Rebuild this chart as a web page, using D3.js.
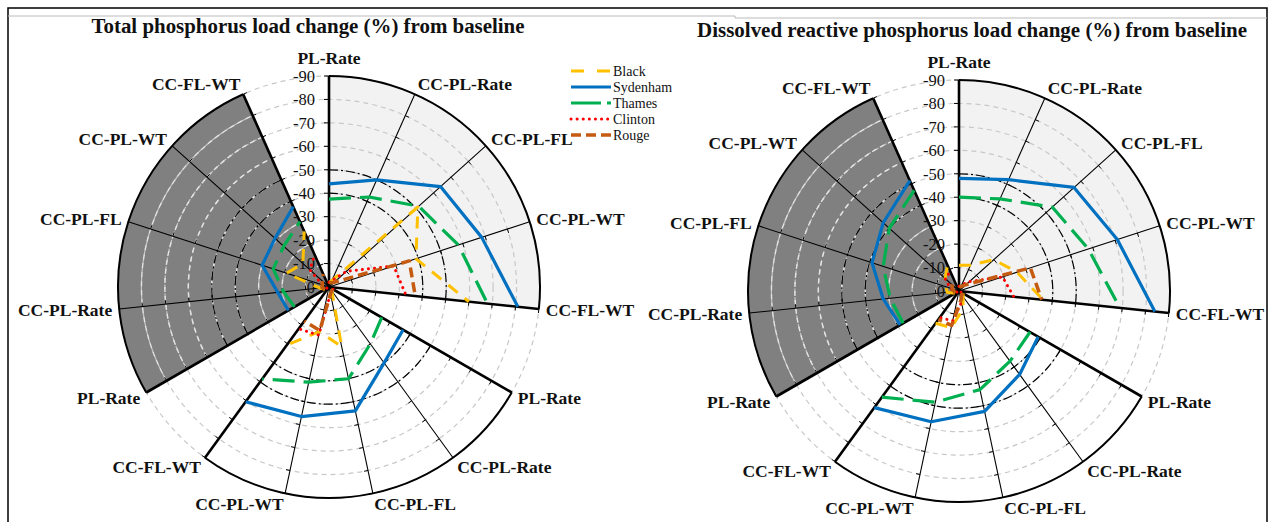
<!DOCTYPE html>
<html>
<head>
<meta charset="utf-8">
<script src="https://cdn.jsdelivr.net/npm/d3@7"></script>
<style>
  body { margin: 0; background: #fff; }
  svg { display: block; font-family: "Liberation Serif", "Times New Roman", serif; }
</style>
</head>
<body>
<div id="chart"></div>
<script>
// Spoke names, repeated in each of the three sectors
const spokeNames = ["PL-Rate", "CC-PL-Rate", "CC-PL-FL", "CC-PL-WT", "CC-FL-WT"];
const sectorNames = ["light", "white", "dark"];
const seriesNames = ["Black", "Sydenham", "Thames", "Clinton", "Rouge"];
const radialTicks = [0, 10, 20, 30, 40, 50, 60, 70, 80, 90];
const tickLabels = ["0", "-10", "-20", "-30", "-40", "-50", "-60", "-70", "-80", "-90"];

// Total phosphorus: size of the load change, 3 sectors x 5 spokes each
const tpBlack    = [2, 3, 51, 39, 60,     2, 2, 26, 19.5, 30.5,   2, 4, 19, 15, 26];
const tpSydenham = [44, 50, 64, 68.5, 81, 36.5, 40, 54, 56.5, 60.5, 20, 22, 30, 31, 37.5];
const tpThames   = [37.5, 42, 51.5, 58, 68, 26, 30, 40, 41.5, 48.5, 17, 19.5, 25, 26, 30.5];
const tpClinton  = [2, 3, 10, 29, 33,     2, 2, 3, 21, 22,        1, 2, 3, 11, 15];
const tpRouge    = [2, 2, 3, 36, 37,      2, 2, 3, 19, 18,        2, 3, 3, 4, 6];

// Dissolved reactive phosphorus
const drpBlack    = [11, 12, 20, 26, 36,    2, 3, 8, 16, 17,        2, 5, 6, 8, 12];
const drpSydenham = [48, 52, 66, 71, 84,    39, 44, 52.5, 57, 61.5, 29, 32.5, 39, 43.5, 51.5];
const drpThames   = [40, 43, 53.5, 58, 69,  35, 37, 43, 48.5, 56,   27.5, 29.5, 34, 40, 47];
const drpClinton  = [2, 3, 6, 19.5, 23.5,   1, 2, 5, 13, 14,        1, 2, 4, 8, 9];
const drpRouge    = [2, 2, 4, 32, 35.5,     2, 2, 4, 15, 15,        2, 2, 3, 4, 5];

const width = 1270;
const height = 522;
const R = 211;

const svg = d3.select("#chart")
  .append("svg")
  .attr("width", width)
  .attr("height", height);

// frame
svg.append("path")
  .attr("d", "M8,522 V8 H1267 V522")
  .attr("fill", "none").attr("stroke", "#000").attr("stroke-width", 1.5);
svg.append("path")
  .attr("d", "M8,16 H735 V18 H1267")
  .attr("fill", "none").attr("stroke", "#bbb").attr("stroke-width", 1);

const seriesStyle = {
  Black:    {color: "#FFC000", width: 3,   dash: "12,9"},
  Sydenham: {color: "#0070C0", width: 3.2, dash: null},
  Thames:   {color: "#00B050", width: 3.2, dash: "22,9"},
  Clinton:  {color: "#FF0000", width: 3,   dash: "0.1,6"},
  Rouge:    {color: "#C55A11", width: 3.5, dash: "10,5"}
};
const sectorFill = {light: "#F2F2F2", white: "#FFFFFF", dark: "#808080"};

const charts = [
  {cx: 329, cy: 287, tx: 308, ty: 33, title: "Total phosphorus load change (%) from baseline", tlen: 433,
   values: [tpBlack, tpSydenham, tpThames, tpClinton, tpRouge]},
  {cx: 959, cy: 291, tx: 972, ty: 37, title: "Dissolved reactive phosphorus load change (%) from baseline", tlen: 550,
   values: [drpBlack, drpSydenham, drpThames, drpClinton, drpRouge]}
];

const nSpokes = spokeNames.length * sectorNames.length;
const rScale = d3.scaleLinear().domain([0, 90]).range([0, R]);
const aScale = d3.scaleLinear().domain([0, nSpokes]).range([0, 2 * Math.PI]);

// point on the chart for an angle (0 = up, clockwise) and a radius in px
const pt = (a, r) => [r * Math.sin(a), -r * Math.cos(a)];

function arcPath(r, a0, a1) {
  const p = d3.path();
  p.arc(0, 0, r, a0 - Math.PI / 2, a1 - Math.PI / 2);
  return p.toString();
}

charts.forEach(chart => {
  const g = svg.append("g").attr("transform", `translate(${chart.cx},${chart.cy})`);

  // sector backgrounds
  sectorNames.forEach((s, k) => {
    g.append("path")
      .attr("d", d3.arc().innerRadius(0).outerRadius(R)
        .startAngle(aScale(k * 5)).endAngle(aScale(k * 5 + 4))())
      .attr("fill", sectorFill[s]);
  });

  // dashed grid circles
  g.selectAll(".grid")
    .data(radialTicks.slice(1))
    .enter()
    .append("circle")
      .attr("r", d => rScale(d))
      .attr("fill", "none")
      .attr("stroke", "#c8c8c8")
      .attr("stroke-width", 1.2)
      .attr("stroke-dasharray", "5,4");

  // lighter grid over the dark sector
  radialTicks.slice(1, -1).forEach(t => {
    g.append("path")
      .attr("d", arcPath(rScale(t), aScale(10), aScale(14)))
      .attr("fill", "none")
      .attr("stroke", "#e4e4e4")
      .attr("stroke-width", 1.4)
      .attr("stroke-dasharray", "5,4");
  });

  // dash-dot rings at 40 and 50 inside each sector
  sectorNames.forEach((s, k) => {
    [40, 50].forEach(v => {
      g.append("path")
        .attr("d", arcPath(rScale(v), aScale(k * 5), aScale(k * 5 + 4)))
        .attr("fill", "none")
        .attr("stroke", "#000")
        .attr("stroke-width", 1.2)
        .attr("stroke-dasharray", "9,3,2,3");
    });
  });

  // spokes with small ticks
  d3.range(nSpokes).forEach(i => {
    const a = aScale(i);
    const edge = (i % 5 === 0 || i % 5 === 4);
    const end = pt(a, R);
    g.append("line")
      .attr("x1", 0).attr("y1", 0)
      .attr("x2", end[0]).attr("y2", end[1])
      .attr("stroke", "#000")
      .attr("stroke-width", edge ? 2.6 : 1.1);
    if (i === 0) return;
    radialTicks.slice(1).forEach(t => {
      const c = pt(a, rScale(t));
      const nx = Math.cos(a) * 4, ny = Math.sin(a) * 4;
      g.append("line")
        .attr("x1", c[0]).attr("y1", c[1])
        .attr("x2", c[0] + nx).attr("y2", c[1] + ny)
        .attr("stroke", "#000").attr("stroke-width", 1);
    });
  });

  // outer border of each sector
  sectorNames.forEach((s, k) => {
    g.append("path")
      .attr("d", arcPath(R, aScale(k * 5), aScale(k * 5 + 4)))
      .attr("fill", "none")
      .attr("stroke", "#000")
      .attr("stroke-width", 2);
  });

  // value axis ticks and labels on the top spoke
  radialTicks.forEach((t, j) => {
    g.append("line")
      .attr("x1", -5).attr("x2", 0)
      .attr("y1", -rScale(t)).attr("y2", -rScale(t))
      .attr("stroke", "#000").attr("stroke-width", 1);
    g.append("text")
      .attr("x", -14)
      .attr("y", -rScale(t))
      .attr("dy", "0.35em")
      .attr("text-anchor", "end")
      .attr("font-size", "16.5px")
      .attr("fill", "#111")
      .text(tickLabels[j]);
  });

  // series lines, one piece per sector
  const line = d3.lineRadial()
    .angle(d => aScale(d.i))
    .radius(d => rScale(d.v));

  seriesNames.forEach((name, n) => {
    const vals = chart.values[n];
    const st = seriesStyle[name];
    sectorNames.forEach((s, k) => {
      const pts = d3.range(5).map(j => ({i: k * 5 + j, v: vals[k * 5 + j]}));
      g.append("path")
        .datum(pts)
        .attr("d", line)
        .attr("fill", "none")
        .attr("stroke", st.color)
        .attr("stroke-width", st.width)
        .attr("stroke-linecap", st.dash === "0.1,6" ? "round" : "butt")
        .attr("stroke-linejoin", "round")
        .attr("stroke-dasharray", st.dash);
    });
  });

  // spoke labels
  d3.range(nSpokes).forEach(i => {
    const a = aScale(i);
    const s = Math.sin(a), c = Math.cos(a);
    const p = pt(a, R + 7);
    let dy = -c * 4;
    if (Math.abs(s) < 0.05) dy = -11;
    g.append("text")
      .attr("x", p[0])
      .attr("y", p[1] + dy)
      .attr("dy", "0.35em")
      .attr("text-anchor", Math.abs(s) < 0.05 ? "middle" : (s > 0 ? "start" : "end"))
      .attr("font-size", "17.5px")
      .attr("font-weight", "bold")
      .attr("fill", "#111")
      .text(spokeNames[i % 5]);
  });

  // title
  svg.append("text")
    .attr("x", chart.tx)
    .attr("y", chart.ty)
    .attr("text-anchor", "middle")
    .attr("font-size", "20px")
    .attr("font-weight", "bold")
    .attr("textLength", chart.tlen)
    .attr("lengthAdjust", "spacingAndGlyphs")
    .attr("fill", "#111")
    .text(chart.title);
});

// legend
const legend = svg.append("g").attr("transform", "translate(571,71)");
seriesNames.forEach((name, n) => {
  const st = seriesStyle[name];
  legend.append("line")
    .attr("x1", 0).attr("x2", 40)
    .attr("y1", n * 16).attr("y2", n * 16)
    .attr("stroke", st.color)
    .attr("stroke-width", st.width)
    .attr("stroke-linecap", st.dash === "0.1,6" ? "round" : "butt")
    .attr("stroke-dasharray", name === "Black" ? "13,13" : (name === "Thames" ? "30,6" : st.dash));
  legend.append("text")
    .attr("x", 42)
    .attr("y", n * 16)
    .attr("dy", "0.35em")
    .attr("font-size", "14px")
    .attr("fill", "#111")
    .text(name);
});
</script>
</body>
</html>
